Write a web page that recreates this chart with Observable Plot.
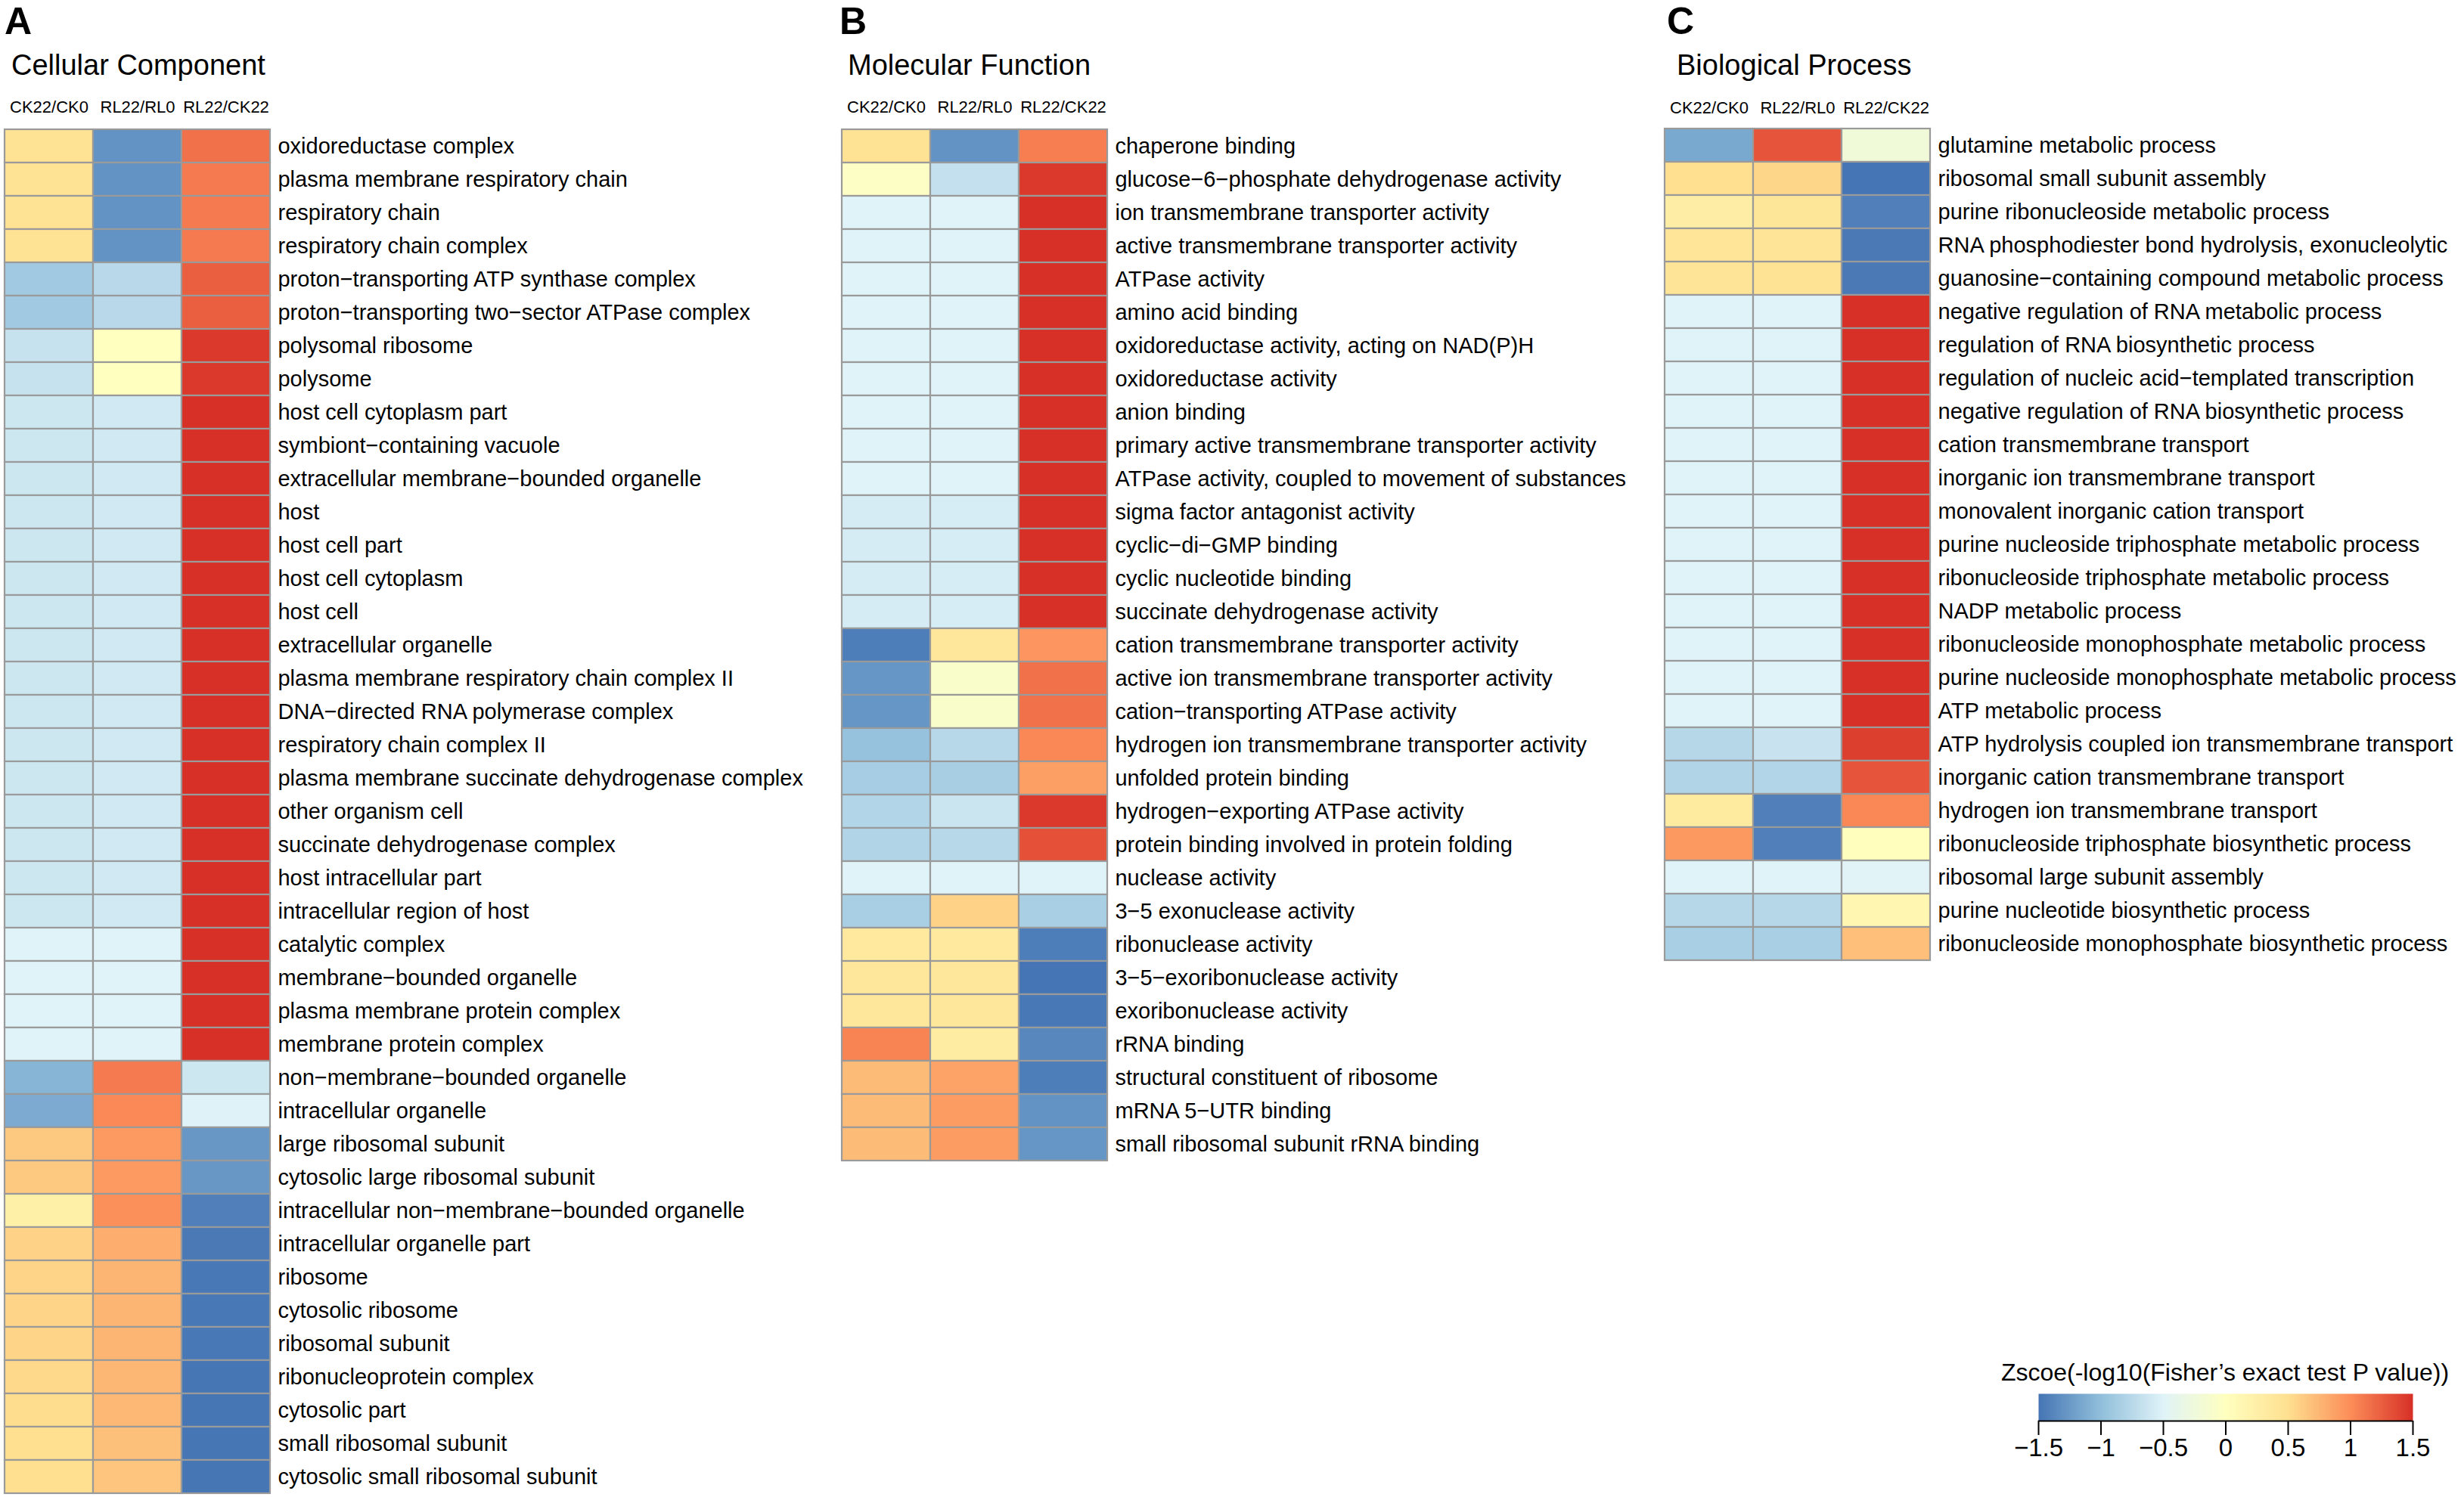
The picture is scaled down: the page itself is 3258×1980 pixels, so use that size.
<!DOCTYPE html>
<html>
<head>
<meta charset="utf-8">
<script src="https://cdn.jsdelivr.net/npm/d3@7"></script>
<script src="https://cdn.jsdelivr.net/npm/@observablehq/plot@0.6"></script>
<style>
  html, body { margin: 0; padding: 0; background: #ffffff; }
  #fig { position: relative; width: 3258px; height: 1980px; overflow: hidden; background: #ffffff;
         font-family: "Liberation Sans", Arial, Helvetica, sans-serif; color: #000; }
  .abs { position: absolute; line-height: 1; white-space: nowrap; }
  .letter { font-size: 50px; font-weight: bold; }
  .ptitle { font-size: 38px; }
  .ltitle { font-size: 32px; transform: translateX(-50%); }
</style>
</head>
<body>
<div id="fig"></div>
<script>
// ---------- data ----------
const comparisons = ["CK22/CK0", "RL22/RL0", "RL22/CK22"];

const ccTerms = [
  "oxidoreductase complex", "plasma membrane respiratory chain", "respiratory chain", "respiratory chain complex",
  "proton−transporting ATP synthase complex", "proton−transporting two−sector ATPase complex",
  "polysomal ribosome", "polysome", "host cell cytoplasm part", "symbiont−containing vacuole",
  "extracellular membrane−bounded organelle", "host", "host cell part", "host cell cytoplasm", "host cell",
  "extracellular organelle", "plasma membrane respiratory chain complex II", "DNA−directed RNA polymerase complex",
  "respiratory chain complex II", "plasma membrane succinate dehydrogenase complex", "other organism cell",
  "succinate dehydrogenase complex", "host intracellular part", "intracellular region of host",
  "catalytic complex", "membrane−bounded organelle", "plasma membrane protein complex", "membrane protein complex",
  "non−membrane−bounded organelle", "intracellular organelle", "large ribosomal subunit",
  "cytosolic large ribosomal subunit", "intracellular non−membrane−bounded organelle", "intracellular organelle part",
  "ribosome", "cytosolic ribosome", "ribosomal subunit", "ribonucleoprotein complex", "cytosolic part",
  "small ribosomal subunit", "cytosolic small ribosomal subunit"
];
const ccCK = [0.45, 0.45, 0.45, 0.45, -0.9, -0.9, -0.66, -0.66, -0.62, -0.62, -0.62, -0.62, -0.62, -0.62, -0.62,
  -0.62, -0.62, -0.62, -0.62, -0.62, -0.62, -0.62, -0.62, -0.62, -0.5, -0.5, -0.5, -0.5, -1.07, -1.14,
  0.64, 0.64, 0.24, 0.58, 0.57, 0.57, 0.57, 0.54, 0.52, 0.5, 0.5];
const ccRL = [-1.3, -1.3, -1.3, -1.3, -0.75, -0.75, 0.0, 0.0, -0.6, -0.6, -0.6, -0.6, -0.6, -0.6, -0.6,
  -0.6, -0.6, -0.6, -0.6, -0.6, -0.6, -0.6, -0.6, -0.6, -0.5, -0.5, -0.5, -0.5, 1.1, 1.02,
  0.92, 0.92, 0.98, 0.8, 0.76, 0.76, 0.76, 0.75, 0.74, 0.69, 0.66];
const ccRLCK = [1.15, 1.1, 1.1, 1.1, 1.25, 1.25, 1.45, 1.45, 1.5, 1.5, 1.5, 1.5, 1.5, 1.5, 1.5,
  1.5, 1.5, 1.5, 1.5, 1.5, 1.5, 1.5, 1.5, 1.5, 1.5, 1.5, 1.5, 1.5, -0.62, -0.51,
  -1.27, -1.27, -1.43, -1.47, -1.48, -1.48, -1.48, -1.49, -1.49, -1.49, -1.49];

const mfTerms = [
  "chaperone binding", "glucose−6−phosphate dehydrogenase activity", "ion transmembrane transporter activity",
  "active transmembrane transporter activity", "ATPase activity", "amino acid binding",
  "oxidoreductase activity, acting on NAD(P)H", "oxidoreductase activity", "anion binding",
  "primary active transmembrane transporter activity", "ATPase activity, coupled to movement of substances",
  "sigma factor antagonist activity", "cyclic−di−GMP binding", "cyclic nucleotide binding",
  "succinate dehydrogenase activity", "cation transmembrane transporter activity",
  "active ion transmembrane transporter activity", "cation−transporting ATPase activity",
  "hydrogen ion transmembrane transporter activity", "unfolded protein binding", "hydrogen−exporting ATPase activity",
  "protein binding involved in protein folding", "nuclease activity", "3−5 exonuclease activity",
  "ribonuclease activity", "3−5−exoribonuclease activity", "exoribonuclease activity", "rRNA binding",
  "structural constituent of ribosome", "mRNA 5−UTR binding", "small ribosomal subunit rRNA binding"
];
const mfCK = [0.45, -0.05, -0.5, -0.5, -0.5, -0.5, -0.5, -0.5, -0.5, -0.5, -0.5, -0.57, -0.57, -0.57, -0.57,
  -1.44, -1.28, -1.28, -0.97, -0.87, -0.79, -0.8, -0.5, -0.85, 0.35, 0.38, 0.38, 1.05, 0.72, 0.72, 0.72];
const mfRL = [-1.3, -0.68, -0.5, -0.5, -0.5, -0.5, -0.5, -0.5, -0.5, -0.5, -0.5, -0.56, -0.56, -0.56, -0.56,
  0.38, -0.1, -0.1, -0.76, -0.86, -0.64, -0.76, -0.5, 0.58, 0.35, 0.38, 0.38, 0.3, 0.87, 0.91, 0.91];
const mfRLCK = [1.08, 1.45, 1.5, 1.5, 1.5, 1.5, 1.5, 1.5, 1.5, 1.5, 1.5, 1.5, 1.5, 1.5, 1.5,
  0.95, 1.15, 1.15, 1.03, 0.89, 1.45, 1.33, -0.5, -0.85, -1.44, -1.5, -1.48, -1.38, -1.44, -1.3, -1.28];

const bpTerms = [
  "glutamine metabolic process", "ribosomal small subunit assembly", "purine ribonucleoside metabolic process",
  "RNA phosphodiester bond hydrolysis, exonucleolytic", "guanosine−containing compound metabolic process",
  "negative regulation of RNA metabolic process", "regulation of RNA biosynthetic process",
  "regulation of nucleic acid−templated transcription", "negative regulation of RNA biosynthetic process",
  "cation transmembrane transport", "inorganic ion transmembrane transport", "monovalent inorganic cation transport",
  "purine nucleoside triphosphate metabolic process", "ribonucleoside triphosphate metabolic process",
  "NADP metabolic process", "ribonucleoside monophosphate metabolic process",
  "purine nucleoside monophosphate metabolic process", "ATP metabolic process",
  "ATP hydrolysis coupled ion transmembrane transport", "inorganic cation transmembrane transport",
  "hydrogen ion transmembrane transport", "ribonucleoside triphosphate biosynthetic process",
  "ribosomal large subunit assembly", "purine nucleotide biosynthetic process",
  "ribonucleoside monophosphate biosynthetic process"
];
const bpCK = [-1.15, 0.5, 0.28, 0.42, 0.43, -0.5, -0.5, -0.5, -0.5, -0.5, -0.5, -0.5, -0.5, -0.5, -0.5,
  -0.5, -0.5, -0.5, -0.77, -0.8, 0.33, 0.93, -0.5, -0.77, -0.85];
const bpRL = [1.3, 0.56, 0.4, 0.43, 0.45, -0.5, -0.5, -0.5, -0.5, -0.5, -0.5, -0.5, -0.5, -0.5, -0.5,
  -0.5, -0.5, -0.5, -0.65, -0.79, -1.43, -1.43, -0.5, -0.77, -0.85];
const bpRLCK = [-0.22, -1.5, -1.43, -1.47, -1.47, 1.5, 1.5, 1.5, 1.5, 1.5, 1.5, 1.5, 1.5, 1.5, 1.5,
  1.5, 1.5, 1.5, 1.42, 1.3, 1.03, 0.02, -0.48, 0.15, 0.7];

const legendTicks = [-1.5, -1, -0.5, 0, 0.5, 1, 1.5];
const palette = ["#4575B4", "#91BFDB", "#E0F3F8", "#FFFFBF", "#FEE090", "#FC8D59", "#D73027"];
const legendTitle = "Zscoe(-log10(Fisher’s exact test P value))";

// ---------- drawing ----------
const FONT = "'Liberation Sans', Arial, Helvetica, sans-serif";
const colorScale = {type: "linear", domain: legendTicks, range: palette, interpolate: "rgb", clamp: true};
const fig = document.getElementById("fig");

function place(el, left, top) {
  el.style.position = "absolute";
  el.style.left = left + "px";
  el.style.top = top + "px";
  fig.appendChild(el);
}
function addText(cls, text, left, top) {
  const d = document.createElement("div");
  d.className = "abs " + cls;
  d.textContent = text;
  d.style.left = left + "px";
  d.style.top = top + "px";
  fig.appendChild(d);
}

const ROW_H = 44.1, HEAT_W = 352, MT = 55, MB = 4, ML = 3;

function panel(terms, ck, rl, rlck, heatLeft, marginRight) {
  const cols = [ck, rl, rlck];
  const data = terms.flatMap((t, i) => comparisons.map((c, j) => ({term: t, cmp: c, v: cols[j][i]})));
  const chart = Plot.plot({
    width: ML + HEAT_W + marginRight,
    height: MT + terms.length * ROW_H + MB,
    marginTop: MT, marginBottom: MB, marginLeft: ML, marginRight: marginRight,
    x: {domain: comparisons, padding: 0},
    y: {domain: terms, padding: 0},
    color: colorScale,
    style: {fontFamily: FONT, background: "transparent", color: "#000", overflow: "visible"},
    marks: [
      Plot.cell(data, {x: "cmp", y: "term", fill: "v", stroke: "#9a9a9a", strokeWidth: 2.2}),
      Plot.axisX({anchor: "top", tickSize: 0, tickPadding: 20, fontSize: 22, label: null}),
      Plot.axisY({anchor: "right", tickSize: 0, tickPadding: 10, fontSize: 29, label: null})
    ]
  });
  place(chart, heatLeft - ML, 169 - MT);
}

panel(ccTerms, ccCK, ccRL, ccRLCK, 5, 740);
panel(mfTerms, mfCK, mfRL, mfRLCK, 1112, 720);
panel(bpTerms, bpCK, bpRL, bpRLCK, 2200, 706);

addText("letter", "A", 6, 3);
addText("letter", "B", 1110, 3);
addText("letter", "C", 2204, 3);
addText("ptitle", "Cellular Component", 15, 67);
addText("ptitle", "Molecular Function", 1121, 67);
addText("ptitle", "Biological Process", 2217, 67);

// legend
const LG_ML = 60, LG_MR = 60, LG_W = 495, LG_MT = 2, LG_BAR = 36, LG_MB = 70;
const legend = Plot.plot({
  width: LG_ML + LG_W + LG_MR,
  height: LG_MT + LG_BAR + LG_MB,
  marginLeft: LG_ML, marginRight: LG_MR, marginTop: LG_MT, marginBottom: LG_MB,
  x: {domain: [legendTicks[0], legendTicks[legendTicks.length - 1]]},
  y: {domain: [0, 1], axis: null},
  color: colorScale,
  style: {fontFamily: FONT, background: "transparent", color: "#000", overflow: "visible"},
  marks: [
    Plot.raster({x1: legendTicks[0], x2: legendTicks[legendTicks.length - 1], y1: 0, y2: 1,
                 width: 600, height: 1, fill: (x, y) => x, imageRendering: "auto"}),
    Plot.ruleY([0], {stroke: "#000", strokeWidth: 2}),
    Plot.axisX({ticks: legendTicks, tickSize: 19, tickPadding: 4, fontSize: 33, label: null,
                tickFormat: d3.format("~g"), strokeWidth: 2})
  ]
});
place(legend, 2695 - LG_ML, 1843 - LG_MT);
addText("ltitle", legendTitle, 2942, 1799);
</script>
</body>
</html>
